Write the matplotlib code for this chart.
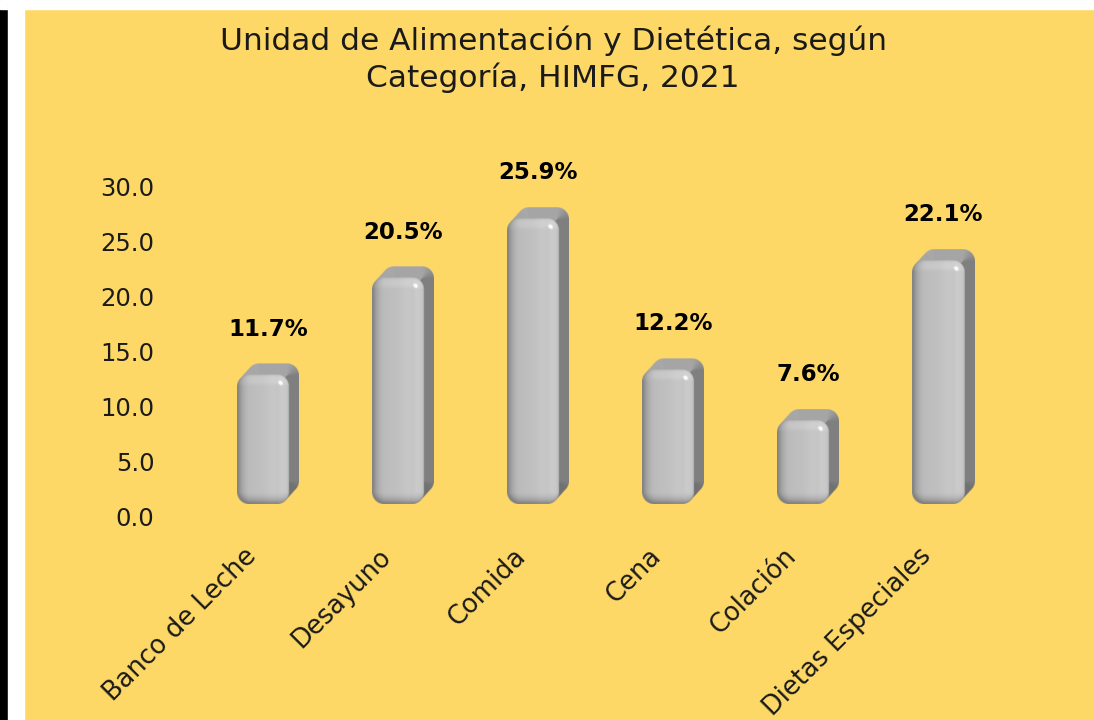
import numpy as np
import matplotlib.pyplot as plt
from matplotlib.patches import Rectangle
from matplotlib.transforms import ScaledTranslation

# data
categories = ['Banco de Leche', 'Desayuno', 'Comida', 'Cena', 'Colación', 'Dietas Especiales']
values = [11.7, 20.5, 25.9, 12.2, 7.6, 22.1]
yticks = [0, 5, 10, 15, 20, 25, 30]
title = 'Unidad de Alimentación y Dietética, según\nCategoría, HIMFG, 2021'

bg = '#FED866'
plt.rcParams['font.family'] = ['DejaVu Sans']

fig = plt.figure(figsize=(10.94, 7.2), dpi=100, facecolor=bg)
# frame strips (left black / white, top white)
fig.patches.append(Rectangle((0, 0), 8 / 1094, 1, transform=fig.transFigure, color='black', zorder=-5))
fig.patches.append(Rectangle((8 / 1094, 0), 16 / 1094, 1, transform=fig.transFigure, color='white', zorder=-5))
fig.patches.append(Rectangle((0, 1 - 9 / 720), 1, 9 / 720, transform=fig.transFigure, color='white', zorder=-5))

ax = fig.add_axes([160 / 1094, 203 / 720, 850 / 1094, 331 / 720])
ax.set_facecolor(bg)
x = np.arange(len(categories))
ax.set_xlim(-0.8, 5.496)
ax.set_ylim(0, 30)
for s in ax.spines.values():
    s.set_visible(False)
ax.set_yticks(yticks)
ax.set_yticklabels(['%.1f' % t for t in yticks], fontsize=17.5, color='#1a1a1a')
ax.tick_params(axis='y', length=0, pad=4)
ax.set_xticks(x)
ax.set_xticklabels(categories, rotation=45, ha='right', rotation_mode='anchor',
                   fontsize=18.5, color='#1a1a1a')
ax.tick_params(axis='x', length=0, pad=19)
for lbl in ax.get_xticklabels():
    lbl.set_transform(lbl.get_transform() + ScaledTranslation(-18 / 72, 0, fig.dpi_scale_trans))

fig.text(553 / 1094, 1 - 59 / 720, title, ha='center', va='center', fontsize=22.5,
         color='#1a1a1a', linespacing=1.25)

# pixel scale of the data axes
p0 = ax.transData.transform((0, 0))
p1 = ax.transData.transform((1, 1))
sx, sy = p1[0] - p0[0], p1[1] - p0[1]


def rr_sdf(px, py, w, h, r):
    qx = np.abs(px - w / 2) - (w / 2 - r)
    qy = np.abs(py - h / 2) - (h / 2 - r)
    out = np.hypot(np.maximum(qx, 0), np.maximum(qy, 0))
    return out + np.minimum(np.maximum(qx, qy), 0) - r


def bar_image(w, h, dx, dy, r, bev, ss=2):
    nx = int(np.ceil((w + dx) * ss))
    ny = int(np.ceil((h + dy) * ss))
    X, Y = np.meshgrid((np.arange(nx) + 0.5) / ss, (np.arange(ny) + 0.5) / ss)
    front = rr_sdf(X, Y, w, h, r)
    ext = np.full_like(X, np.inf)
    for t in np.linspace(0, 1, 31):
        ext = np.minimum(ext, rr_sdf(X - t * dx, Y - t * dy, w, h, r))
    a_f = np.clip(0.5 - front * ss, 0, 1)
    a_e = np.clip(0.5 - ext * ss, 0, 1)

    # front face: bevelled edges
    gy, gx = np.gradient(front)
    gn = np.hypot(gx, gy) + 1e-9
    gx, gy = gx / gn, gy / gn
    s = np.clip((bev + front) / bev, 0, 0.999) ** 1.3
    nz = np.sqrt(1 - s ** 2)
    nx_, ny_ = gx * s, gy * s
    L = np.array([0.6, 0.6, 1.0]) / np.linalg.norm([0.6, 0.6, 1.0])
    H = L + np.array([0, 0, 1.0])
    H = H / np.linalg.norm(H)
    diff = np.clip(nx_ * L[0] + ny_ * L[1] + nz * L[2], 0, 1)
    spec = np.clip(nx_ * H[0] + ny_ * H[1] + nz * H[2], 0, 1) ** 150
    u = X / w
    band = 0.03 * np.exp(-((u - 0.7) / 0.15) ** 2) - 0.015 * np.exp(-((u - 0.2) / 0.12) ** 2)
    i_front = 0.52 + 0.3 * diff + band + 0.6 * spec

    # extruded sides
    ey, ex = np.gradient(ext)
    en = np.hypot(ex, ey) + 1e-9
    ex, ey = ex / en, ey / en
    i_side = 0.55 + 0.1 * ey - 0.05 * ex

    I = np.clip(a_f * i_front + (1 - a_f) * i_side, 0, 1)
    img = np.dstack([I, I, I, a_e])
    return img, nx / ss, ny / ss


W_PX, DX_PX, DY_PX, R_PX, BEV_PX = 52, 10, 11, 12, 12
base = 1.2
for xc, v in zip(x, values):
    img, wpx, hpx = bar_image(W_PX, v * sy, DX_PX, DY_PX, R_PX, BEV_PX)
    half = wpx / 2 / sx
    ax.imshow(img, origin='lower', interpolation='bilinear', aspect='auto',
              extent=[xc - half, xc + half, base, base + hpx / sy], zorder=2)
    ax.text(xc, v + 5.3, '%.1f%%' % v, ha='center', va='center', fontsize=16.5,
            fontweight='bold', color='black', clip_on=False, zorder=3)

ax.set_xlim(-0.8, 5.496)
ax.set_ylim(0, 30)

fig.savefig('out.png', dpi=100, facecolor=bg)
